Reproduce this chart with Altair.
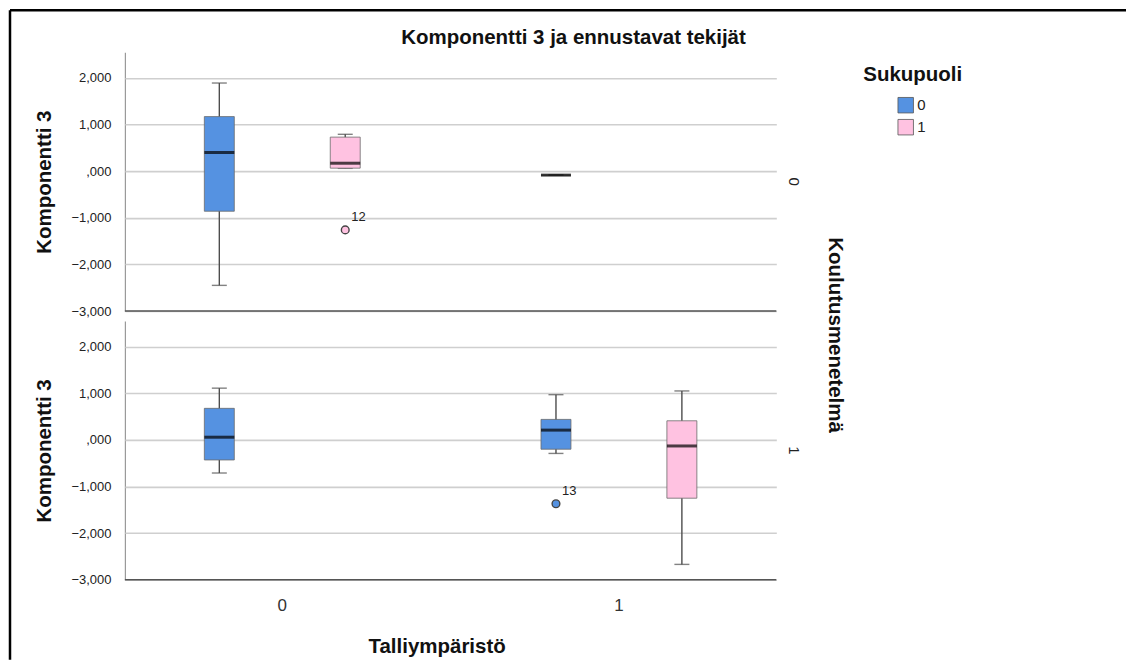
import altair as alt
import pandas as pd

# Box statistics per cell
koulutus = [0, 0, 0, 1, 1, 1]
talli = [0, 0, 1, 0, 1, 1]
sukupuoli = [0, 1, 0, 0, 0, 1]
whisker_low = [-2.45, 0.06, -0.085, -0.71, -0.29, -2.67]
q1 = [-0.86, 0.064, -0.085, -0.43, -0.20, -1.25]
median = [0.40, 0.17, -0.085, 0.058, 0.21, -0.13]
q3 = [1.17, 0.73, -0.085, 0.677, 0.44, 0.41]
whisker_high = [1.89, 0.79, -0.085, 1.11, 0.97, 1.05]

# Outliers
out_koulutus = [0, 1]
out_talli = [0, 1]
out_sukupuoli = [1, 0]
out_value = [-1.26, -1.37]
out_case = ["12", "13"]

TITLE = "Komponentti 3 ja ennustavat tekijät"

box = pd.DataFrame({
    "Koulutusmenetelmä": koulutus, "Talliympäristö": talli, "Sukupuoli": sukupuoli,
    "lo": whisker_low, "q1": q1, "med": median, "q3": q3, "hi": whisker_high,
    "kind": "box",
})
out = pd.DataFrame({
    "Koulutusmenetelmä": out_koulutus, "Talliympäristö": out_talli, "Sukupuoli": out_sukupuoli,
    "val": out_value, "case": out_case, "kind": "out",
})
df = pd.concat([box, out], ignore_index=True)

FONT = "Liberation Sans"
BLUE = "#5592E1"
PINK = "#FFC2E1"
TS = 20.5  # bold title size

yscale = alt.Scale(domain=[-3, 2.55], nice=False, zero=False)
yaxis = alt.Axis(
    title="Komponentti 3", values=[-3, -2, -1, 0, 1, 2], ticks=False,
    labelExpr="datum.value == 0 ? ',000' : replace(replace(format(datum.value, '.3f'), '.', ','), '-', '\u2212')",
    labelFontSize=13, labelColor="#222", labelPadding=14, labelFont=FONT,
    titleFontSize=TS, titleFont=FONT, titleFontWeight="bold", titleColor="#111", titlePadding=16,
    domainColor="#9a9a9a", domainWidth=1.2, grid=True, gridColor="#cfcfcf", gridWidth=1.6,
)
xscale = alt.Scale(paddingInner=0.065, paddingOuter=0)
xaxis = alt.Axis(
    title="Talliympäristö", labelAngle=0, ticks=False, domain=False, labelFontSize=17,
    labelColor="#333", labelPadding=18, labelFont=FONT, titleFont=FONT, titleFontSize=TS,
    titleFontWeight="bold", titleColor="#111", titlePadding=23, titleX=312,
)
xoff = alt.XOffset("Sukupuoli:N", scale=alt.Scale(paddingInner=0.762, paddingOuter=0.631))
X = alt.X("Talliympäristö:N", scale=xscale, axis=xaxis)

boxes = alt.Chart().transform_filter("datum.kind == 'box'")
one_cell = "datum.kind == 'box' && datum['Sukupuoli'] == 0 && datum['Talliympäristö'] == 0"
top_only = alt.Chart().transform_filter(one_cell + " && datum['Koulutusmenetelmä'] == 0")

base_rule = alt.Chart().transform_filter(one_cell).mark_rule(color="#555555", strokeWidth=1.6).encode(
    y=alt.datum(-3, scale=yscale, axis=yaxis))

# outer frame of the output (top and left edges) and the chart title, drawn from the top panel only
frame_top = top_only.mark_rule(color="black", strokeWidth=2.5).encode(
    x=alt.value(-115), x2=alt.value(1002), y=alt.value(-42))
frame_left = top_only.mark_rule(color="black", strokeWidth=2.5).encode(
    x=alt.value(-115), y=alt.value(-42), y2=alt.value(608))
title_txt = top_only.mark_text(align="center", baseline="middle", fontSize=TS, font=FONT,
                               fontWeight="bold", color="#111").encode(
    x=alt.value(449), y=alt.value(-14), text=alt.value(TITLE))

whisk = boxes.mark_rule(color="#4d4d4d", strokeWidth=1.4).encode(
    x=X, xOffset=xoff, y=alt.Y("lo:Q", scale=yscale, axis=yaxis), y2="hi:Q")
cap_lo = boxes.mark_tick(color="#4d4d4d", size=15, thickness=1.4).encode(
    x=X, xOffset=xoff, y=alt.Y("lo:Q", scale=yscale))
cap_hi = boxes.mark_tick(color="#4d4d4d", size=15, thickness=1.4).encode(
    x=X, xOffset=xoff, y=alt.Y("hi:Q", scale=yscale))
rect = boxes.mark_bar(stroke="#6b6b6b", strokeWidth=0.8).encode(
    x=X, xOffset=xoff, y=alt.Y("q1:Q", scale=yscale), y2="q3:Q",
    color=alt.Color("Sukupuoli:N", scale=alt.Scale(domain=[0, 1], range=[BLUE, PINK]),
                    legend=alt.Legend(title="Sukupuoli", orient="none", legendX=739, legendY=13,
                                      symbolType="square", symbolSize=240, symbolStrokeColor="#555",
                                      symbolStrokeWidth=0.8, symbolOffset=34, labelOffset=3,
                                      labelFontSize=15, labelFont=FONT, labelColor="#222",
                                      titleFontSize=TS, titleFont=FONT, titleFontWeight="bold",
                                      titleColor="#111", titlePadding=11, rowPadding=3)))
med = boxes.mark_tick(color="black", size=30, thickness=3).encode(
    x=X, xOffset=xoff, y=alt.Y("med:Q", scale=yscale))

outs = alt.Chart().transform_filter("datum.kind == 'out'")
pts = outs.mark_point(shape="circle", filled=True, size=60, stroke="#444", strokeWidth=1.4, opacity=1).encode(
    x=X, xOffset=xoff, y=alt.Y("val:Q", scale=yscale),
    fill=alt.Fill("Sukupuoli:N", scale=alt.Scale(domain=[0, 1], range=[BLUE, PINK]), legend=None))
lbl = outs.mark_text(align="left", baseline="middle", dx=6, dy=-13, fontSize=13, font=FONT, color="#222").encode(
    x=X, xOffset=xoff, y=alt.Y("val:Q", scale=yscale), text="case:N")

layered = alt.layer(frame_top, frame_left, title_txt, base_rule, whisk, cap_lo, cap_hi, rect, med, pts, lbl).properties(
    width=652, height=259)

chart = layered.facet(
    data=df,
    row=alt.Row("Koulutusmenetelmä:N", header=alt.Header(
        labelOrient="right", titleOrient="right", labelAngle=90, titleAngle=90,
        labelFontSize=15, labelFont=FONT, labelColor="#222", labelPadding=10,
        titleFontSize=TS, titleFont=FONT, titleFontWeight="bold", titleColor="#111", titlePadding=13)),
    spacing=10,
    bounds="flush",
).properties(
    padding={"left": 0, "top": 0, "right": 0, "bottom": 0},
    background="white",
).configure_view(strokeWidth=0, stroke="transparent")

chart.save("out.html", embed_options={"renderer": "svg", "actions": False})
